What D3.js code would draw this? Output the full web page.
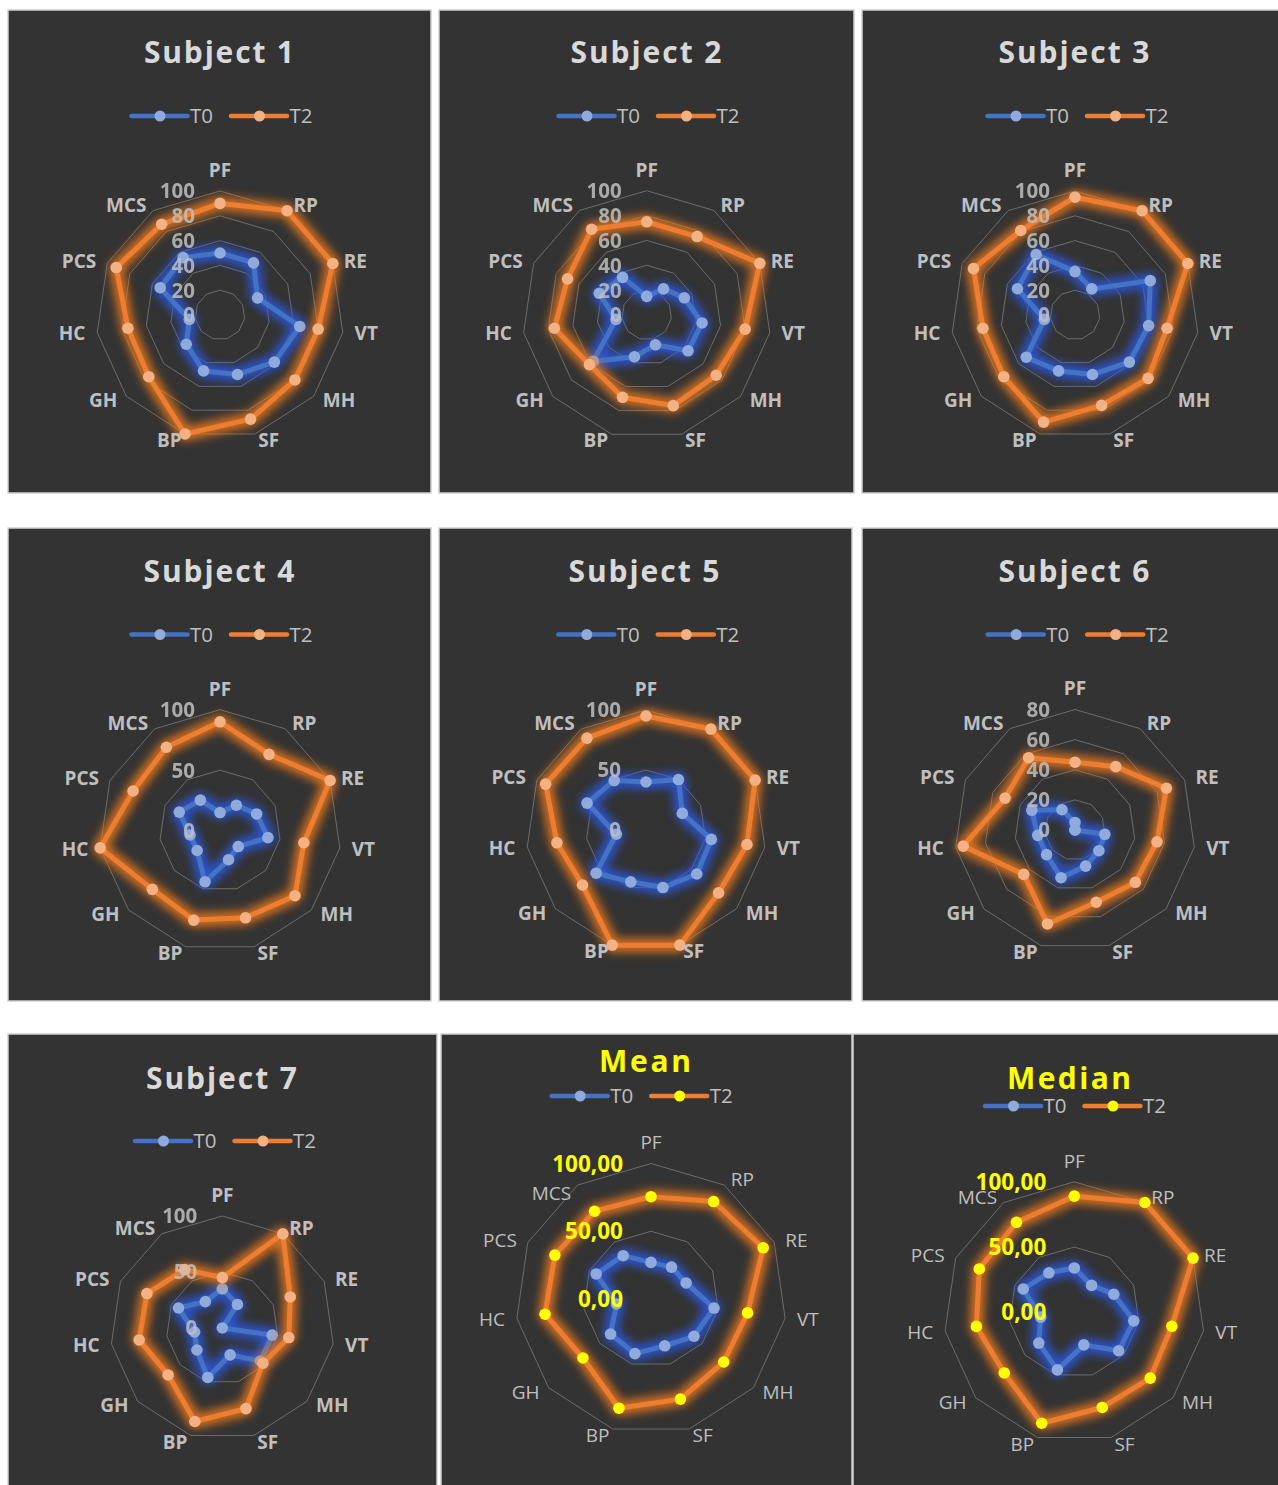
<!DOCTYPE html>
<html>
<head>
<meta charset="utf-8">
<script src="https://cdn.jsdelivr.net/npm/d3@7"></script>
<style>
  html, body { margin: 0; padding: 0; background: #ffffff; }
  svg { display: block; font-family: "Open Sans", Lato, sans-serif; }
</style>
</head>
<body>
<svg id="chart" width="1278" height="1485"></svg>
<script>
// SF-36 domains, clockwise from the top
const axes = ["PF", "RP", "RE", "VT", "MH", "SF", "BP", "GH", "HC", "PCS", "MCS"];
const seriesNames = ["T0", "T2"];

const subject1T0 = [50, 50, 33.3, 65, 58, 50, 47, 36, 25, 53, 55];
const subject1T2 = [90, 100, 100, 80, 80, 87.5, 100, 76, 75, 92, 87];
const subject2T0 = [15, 25, 33.3, 45, 44, 25, 35, 57, 25, 42, 36];
const subject2T2 = [75, 75, 100, 80, 74, 76, 69, 61, 75, 70, 82];
const subject3T0 = [35, 25, 66.7, 60, 58, 50, 47, 52, 25, 51, 58];
const subject3T2 = [95, 100, 100, 75, 78, 76, 90, 76, 75, 90, 81];
const subject4T0 = [15, 25, 33.3, 40, 20, 25, 44, 25, 25, 37, 30];
const subject4T2 = [90, 75, 100, 70, 82, 75, 77, 74, 100, 79, 82];
const subject5T0 = [40, 50, 33.3, 55, 56, 50, 45, 55, 25, 54, 49];
const subject5T2 = [95, 100, 100, 85, 80, 100, 100, 70, 75, 92, 91];
const subject6T0 = [5, 0, 0, 20, 21, 25, 33, 25, 25, 31.5, 16];
const subject6T2 = [45, 50, 66.7, 55, 53, 50, 65, 45, 75, 51, 57];
const subject7T0 = [35, 25, 0, 45, 45, 25, 46, 30, 25, 43, 28];
const subject7T2 = [45, 100, 66.7, 60, 48, 75, 87, 64, 75, 74, 62];
const meanT0 = [27, 28, 28.5, 47, 42, 36, 42, 39.5, 25.7, 44.5, 38];
const meanT2 = [75.5, 85.5, 91, 72, 71, 77, 84, 66.5, 79, 78, 77];
const medianT0 = [34, 24.5, 33.3, 46, 45, 26, 46, 36, 26, 43, 36];
const medianT2 = [89, 100, 100, 75.5, 77, 76, 88.6, 71, 75.8, 80, 82];

const ticksBy20 = [0, 20, 40, 60, 80, 100];
const ticksBy50 = [0, 50, 100];
const ticksTo80 = [0, 20, 40, 60, 80];
const summaryTicks = [0, 50, 100];
const summaryTickLabels = ["0,00", "50,00", "100,00"];

const panelTitles = ["Subject 1", "Subject 2", "Subject 3", "Subject 4", "Subject 5",
                     "Subject 6", "Subject 7", "Mean", "Median"];

// Each chart: data references plus frame geometry
const panels = [
  { title: panelTitles[0], t0: subject1T0, t2: subject1T2, ticks: ticksBy20, max: 100, summary: false,
    box: [8, 10, 431, 493], titleXY: [219, 52], titleLen: 150, legendXY: [219.5, 116], cx: 220, cy: 315, radius: 124 },
  { title: panelTitles[1], t0: subject2T0, t2: subject2T2, ticks: ticksBy20, max: 100, summary: false,
    box: [439, 10, 854, 493], titleXY: [646, 52], titleLen: 151, legendXY: [646.5, 116], cx: 646.7, cy: 315, radius: 124.3 },
  { title: panelTitles[2], t0: subject3T0, t2: subject3T2, ticks: ticksBy20, max: 100, summary: false,
    box: [862, 10, 1290, 493], titleXY: [1074, 52], titleLen: 151, legendXY: [1075.5, 116], cx: 1075, cy: 315, radius: 124 },
  { title: panelTitles[3], t0: subject4T0, t2: subject4T2, ticks: ticksBy50, max: 100, summary: false,
    box: [8, 528, 431, 1001], titleXY: [219, 571], titleLen: 151, legendXY: [219.5, 634.5], cx: 220, cy: 830.7, radius: 121 },
  { title: panelTitles[4], t0: subject5T0, t2: subject5T2, ticks: ticksBy50, max: 100, summary: false,
    box: [439, 528, 852, 1001], titleXY: [644, 571], titleLen: 151, legendXY: [646.3, 634.5], cx: 646, cy: 830, radius: 120 },
  { title: panelTitles[5], t0: subject6T0, t2: subject6T2, ticks: ticksTo80, max: 80, summary: false,
    box: [862, 528, 1290, 1001], titleXY: [1074, 571], titleLen: 151, legendXY: [1075.7, 634.5], cx: 1075, cy: 830, radius: 120.5 },
  { title: panelTitles[6], t0: subject7T0, t2: subject7T2, ticks: ticksBy50, max: 100, summary: false,
    box: [8, 1034, 437, 1495], titleXY: [221.5, 1078], titleLen: 151, legendXY: [223, 1141], cx: 222.3, cy: 1328, radius: 112 },
  { title: panelTitles[7], t0: meanT0, t2: meanT2, ticks: summaryTicks, max: 100, summary: true,
    box: [441, 1034, 852, 1495], titleXY: [645, 1061], titleLen: 92, legendXY: [639.7, 1096], cx: 651, cy: 1299, radius: 135.5,
    labelShift: { MCS: 14 } },
  { title: panelTitles[8], t0: medianT0, t2: medianT2, ticks: summaryTicks, max: 100, summary: true,
    box: [853, 1034, 1290, 1495], titleXY: [1069, 1078], titleLen: 124, legendXY: [1073, 1106], cx: 1074.3, cy: 1312.3, radius: 130.5 }
];

const colors = {
  panel: "#333333",
  border: "#cfcfcf",
  grid: "#6c6c6c",
  title: "#d9d9d9",
  text: "#bfbfbf",
  yellow: "#ffff00",
  t0Line: "#4472c4", t0Glow: "#2a5ae8", t0Marker: "#8faadc",
  t2Line: "#ed7d31", t2Glow: "#f07a1c", t2Marker: "#f4b183"
};

const svg = d3.select("#chart");
svg.append("rect").attr("width", 1278).attr("height", 1485).attr("fill", "#ffffff");

const defs = svg.append("defs");
const glow = defs.append("filter").attr("id", "glow")
  .attr("x", "-30%").attr("y", "-30%").attr("width", "160%").attr("height", "160%");
glow.append("feGaussianBlur").attr("stdDeviation", 5);

panels.forEach((p, idx) => {
  const [x0, y0, x1, y1] = p.box;
  const clipId = "clip" + idx;
  defs.append("clipPath").attr("id", clipId)
    .append("rect").attr("x", x0).attr("y", y0).attr("width", x1 - x0).attr("height", y1 - y0);

  const g = svg.append("g");
  g.append("rect")
    .attr("x", x0).attr("y", y0).attr("width", x1 - x0).attr("height", y1 - y0)
    .attr("fill", colors.panel).attr("stroke", colors.border).attr("stroke-width", 1.5);

  const inner = g.append("g").attr("clip-path", `url(#${clipId})`);

  // title
  inner.append("text")
    .attr("x", p.titleXY[0]).attr("y", p.titleXY[1]).attr("dy", "0.36em")
    .attr("text-anchor", "middle")
    .attr("font-size", 30).attr("font-weight", 700)
    .attr("fill", p.summary ? colors.yellow : colors.title)
    .attr("textLength", p.titleLen).attr("lengthAdjust", "spacing")
    .text(p.title);

  // legend
  const lg = inner.append("g").attr("transform", `translate(${p.legendXY[0]},${p.legendXY[1]})`);
  const legendItems = [
    { name: seriesNames[0], x: -88, line: colors.t0Line, marker: colors.t0Marker },
    { name: seriesNames[1], x: 11.5, line: colors.t2Line, marker: p.summary ? colors.yellow : colors.t2Marker }
  ];
  legendItems.forEach(it => {
    lg.append("line").attr("x1", it.x).attr("x2", it.x + 56).attr("y1", 0).attr("y2", 0)
      .attr("stroke", it.line).attr("stroke-width", 4.5).attr("stroke-linecap", "round");
    lg.append("circle").attr("cx", it.x + 28.5).attr("cy", 0).attr("r", 5.5).attr("fill", it.marker);
    lg.append("text").attr("x", it.x + 58.5).attr("y", 0).attr("dy", "0.36em")
      .attr("font-size", 20.5).attr("fill", colors.text).text(it.name);
  });

  // radar scales
  const angle = d3.scaleLinear().domain([0, axes.length]).range([0, 2 * Math.PI]);
  const r = d3.scaleLinear().domain([0, p.max]).range([0, p.radius]);
  const plot = inner.append("g").attr("transform", `translate(${p.cx},${p.cy})`);

  const ring = d3.lineRadial()
    .angle((d, i) => angle(i))
    .radius(d => d)
    .curve(d3.curveLinearClosed);

  p.ticks.filter(t => t > 0).forEach(t => {
    plot.append("path")
      .attr("d", ring(axes.map(() => r(t))))
      .attr("fill", "none").attr("stroke", colors.grid).attr("stroke-width", 1);
  });

  const series = d3.lineRadial()
    .angle((d, i) => angle(i))
    .radius(d => r(d))
    .curve(d3.curveLinearClosed);

  const seriesDefs = [
    { values: p.t0, line: colors.t0Line, glow: colors.t0Glow, marker: colors.t0Marker },
    { values: p.t2, line: colors.t2Line, glow: colors.t2Glow, marker: p.summary ? colors.yellow : colors.t2Marker }
  ];
  seriesDefs.forEach(s => {
    plot.append("path").attr("d", series(s.values))
      .attr("fill", "none").attr("stroke", s.glow).attr("stroke-width", 14)
      .attr("stroke-linejoin", "round").attr("opacity", 0.85).attr("filter", "url(#glow)");
    plot.append("path").attr("d", series(s.values))
      .attr("fill", "none").attr("stroke", s.line).attr("stroke-width", 5)
      .attr("stroke-linejoin", "round");
    plot.selectAll(null).data(s.values).enter().append("circle")
      .attr("cx", (d, i) => r(d) * Math.sin(angle(i)))
      .attr("cy", (d, i) => -r(d) * Math.cos(angle(i)))
      .attr("r", 5.8).attr("fill", s.marker);
  });

  // category labels
  axes.forEach((name, i) => {
    const a = angle(i);
    const s = Math.sin(a), c = Math.cos(a);
    const rr = p.radius + 12;
    let x = rr * s, y = -rr * c + 5.5 * c, anchor = "middle";
    if (s > 0.1) anchor = "start";
    else if (s < -0.1) anchor = "end";
    else y = -(p.radius + 21);
    if (p.labelShift && p.labelShift[name]) y += p.labelShift[name];
    plot.append("text")
      .attr("x", x).attr("y", y).attr("dy", "0.36em")
      .attr("text-anchor", anchor)
      .attr("font-size", 19)
      .attr("font-weight", p.summary ? 400 : 700)
      .attr("fill", colors.text)
      .text(name);
  });

  // radial value labels
  p.ticks.forEach((t, k) => {
    plot.append("text")
      .attr("x", p.summary ? -28 : -25).attr("y", -r(t)).attr("dy", "0.36em")
      .attr("text-anchor", "end")
      .attr("font-size", p.summary ? 22.5 : 20.5)
      .attr("font-weight", 700)
      .attr("fill", p.summary ? colors.yellow : colors.text)
      .attr("opacity", p.summary ? 1 : 0.85)
      .text(p.summary ? summaryTickLabels[k] : String(t));
  });
});
</script>
</body>
</html>
